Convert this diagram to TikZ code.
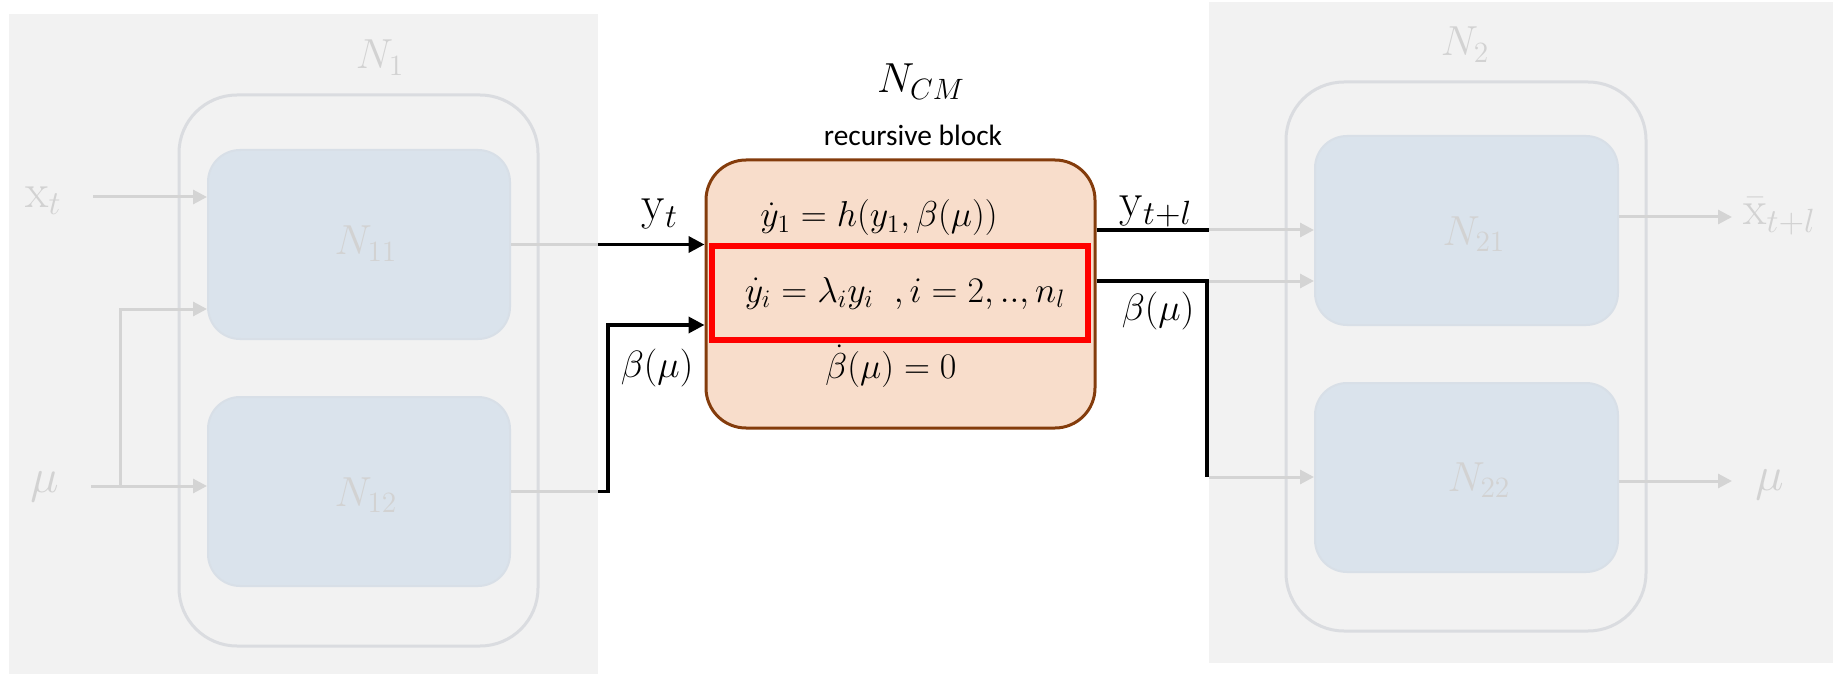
\RequirePackage{fix-cm}
\documentclass[tikz,border=0pt]{standalone}
\usepackage{fontspec}
\setsansfont{Carlito}
\usetikzlibrary{arrows.meta}
\definecolor{panelgray}{HTML}{F2F2F2}
\definecolor{outerline}{HTML}{DADCE0}
\definecolor{innerfill}{HTML}{DAE3EC}
\definecolor{innerline}{HTML}{D8DFE7}
\definecolor{garrowcol}{HTML}{D4D4D4}
\definecolor{gtext}{HTML}{D2D2D2}
\definecolor{cmfill}{HTML}{F8DDCB}
\definecolor{cmline}{HTML}{843C0C}
\tikzset{
  outerbox/.style={draw=outerline, line width=1.5pt, rounded corners=29pt, inner sep=0pt},
  innerbox/.style={draw=innerline, fill=innerfill, line width=1pt, rounded corners=16pt, inner sep=0pt},
  cmbox/.style={draw=cmline, fill=cmfill, line width=1.5pt, rounded corners=20pt, inner sep=0pt},
  redbox/.style={draw=red, line width=3pt, inner sep=0pt},
  graytxt/.style={text=gtext, inner sep=0pt},
  bigN/.style={graytxt, font=\fontsize{21}{25}\selectfont},
  iolbl/.style={graytxt, font=\fontsize{24}{28}\selectfont},
  blbl/.style={inner sep=0pt, font=\fontsize{24}{28}\selectfont},
  betalbl/.style={inner sep=0pt, font=\fontsize{19}{23}\selectfont},
  eqn/.style={inner sep=0pt, font=\fontsize{18}{22}\selectfont},
  gline/.style={draw=garrowcol, line width=1.5pt},
  garrow/.style={gline, -{Triangle[length=7pt,width=7pt]}},
  bline/.style={draw=black, line width=1.8pt, line join=miter},
  barrow/.style={bline, -{Triangle[length=8pt,width=8pt]}}
}
\begin{document}
\begin{tikzpicture}[x=0.5pt,y=-0.5pt]
\useasboundingbox (0,0) rectangle (1833,674);
% panels
\fill[panelgray] (9,14) rectangle (598,674);
\fill[panelgray] (1209,2) rectangle (1833,663);
% N1 group
\node[outerbox, minimum width=179.5pt, minimum height=275.5pt] (N1) at (358.5,370.5) {};
\node[innerbox, minimum width=151pt, minimum height=94.5pt] (N11) at (359,244.5) {};
\node[innerbox, minimum width=151pt, minimum height=94.5pt] (N12) at (359,491.5) {};
\node[bigN, anchor=base] (N1lbl) at (380,69) {$N_1$};
\node[bigN, anchor=base] (N11lbl) at (366,255) {$N_{11}$};
\node[bigN, anchor=base] (N12lbl) at (366,506) {$N_{12}$};
% N2 group
\node[outerbox, minimum width=180pt, minimum height=274.5pt] (N2) at (1466,356.5) {};
\node[innerbox, minimum width=151.5pt, minimum height=94.5pt] (N21) at (1466.5,230.5) {};
\node[innerbox, minimum width=151.5pt, minimum height=94.5pt] (N22) at (1466.5,477.5) {};
\node[bigN, anchor=base] (N2lbl) at (1465,56) {$N_2$};
\node[bigN, anchor=base] (N21lbl) at (1474,245) {$N_{21}$};
\node[bigN, anchor=base] (N22lbl) at (1479,491) {$N_{22}$};
% N_CM block
\node[cmbox, minimum width=194.5pt, minimum height=134pt] (NCM) at (900.5,294) {};
\node[redbox, minimum width=188pt, minimum height=47pt] (red) at (900,293) {};
\node[inner sep=0pt, anchor=base, font=\fontsize{21}{25}\selectfont] (NCMlbl) at (921,93) {$N_{CM}$};
\node[inner sep=0pt, anchor=base, font=\sffamily\fontsize{14.7}{17}\selectfont] (rb) at (913,146) {recursive block};
\node[eqn, anchor=base] (eq1) at (879,227) {$\dot{y}_1=h(y_1,\beta(\mu))$};
\node[eqn, anchor=base] (eq2) at (905,302) {$\dot{y}_i=\lambda_i y_i\;\;,i=2,..,n_l$};
\node[eqn, anchor=base] (eq3) at (891,378) {$\dot{\beta}(\mu)=0$};
% left inputs
\node[iolbl, anchor=base east] (xt) at (62,207) {$\mathrm{x}_t$};
\node[iolbl, anchor=base east] (muL) at (59,492) {$\mu$};
\coordinate (xtS) at (93,197);
\coordinate (muS) at (91,486);
\coordinate (muB) at (120,486);
\coordinate (muT) at (120,309);
\draw[garrow] (xtS) -- (xtS -| N11.west);
\draw[garrow] (muS) -- (muS -| N12.west);
\draw[garrow] (muB) -- (muT) -- (muT -| N11.west);
% N1 -> NCM
\coordinate (gapL) at (598,245);
\coordinate (bL) at (608,325);
\draw[gline] (N11.east) -- (N11.east -| gapL);
\draw[barrow] (N11.east -| gapL) -- (N11.east -| NCM.west);
\draw[gline] (N12.east) -- (N12.east -| gapL);
\draw[barrow] (N12.east -| gapL) -- (N12.east -| bL) -- (bL) -- (bL -| NCM.west);
\node[blbl, anchor=base] (ytlbl) at (660,220) {$\mathrm{y}_t$};
\node[betalbl, anchor=base] (bLlbl) at (657,377) {$\beta(\mu)$};
% NCM -> N2
\coordinate (gapR) at (1209,230);
\coordinate (bR1) at (1207,281);
\coordinate (bR2) at (1207,477);
\draw[bline] (NCM.east |- gapR) -- (gapR);
\draw[garrow] (gapR) -- (gapR -| N21.west);
\draw[bline] (NCM.east |- bR1) -- (bR1) -- (bR2);
\draw[garrow] (bR1 -| gapR) -- (bR1 -| N21.west);
\draw[garrow] (bR2 -| gapR) -- (bR2 -| N22.west);
\node[blbl, anchor=base] (ytl) at (1156,217) {$\mathrm{y}_{t+l}$};
\node[betalbl, anchor=base] (bRlbl) at (1158,320) {$\beta(\mu)$};
% outputs
\coordinate (oR1) at (1732,217);
\coordinate (oR2) at (1732,481);
\draw[garrow] (N21.east |- oR1) -- (oR1);
\draw[garrow] (N22.east |- oR2) -- (oR2);
\node[iolbl, anchor=base west] (xbar) at (1743,225) {$\bar{\mathrm{x}}_{t+l}$};
\node[iolbl, anchor=base west] (muR) at (1755,490) {$\mu$};
\end{tikzpicture}
\end{document}
